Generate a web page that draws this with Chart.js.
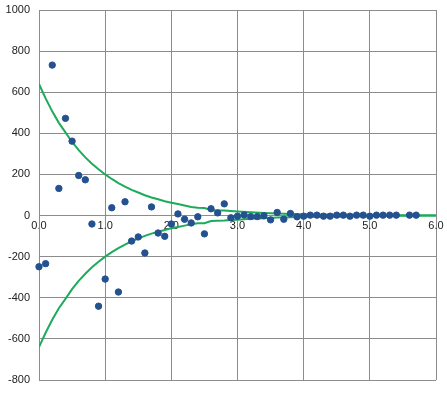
<!DOCTYPE html>
<html>
<head>
<meta charset="utf-8">
<script src="https://cdn.jsdelivr.net/npm/chart.js@4/dist/chart.umd.min.js"></script>
<style>
  html, body { margin: 0; padding: 0; background: #fff; }
  #wrap { width: 447px; height: 398px; }
</style>
</head>
<body>
<div id="wrap"><canvas id="graph"></canvas></div>
<script>
// measured points
var ptX = [0.0, 0.1, 0.2, 0.3, 0.4, 0.5, 0.6, 0.7, 0.8, 0.9,
           1.0, 1.1, 1.2, 1.3, 1.4, 1.5, 1.6, 1.7, 1.8, 1.9,
           2.0, 2.1, 2.2, 2.3, 2.4, 2.5, 2.6, 2.7, 2.8, 2.9,
           3.0, 3.1, 3.2, 3.3, 3.4, 3.5, 3.6, 3.7, 3.8, 3.9,
           4.0, 4.1, 4.2, 4.3, 4.4, 4.5, 4.6, 4.7, 4.8, 4.9,
           5.0, 5.1, 5.2, 5.3, 5.4, 5.6, 5.7];
var ptY = [-249, -234, 732, 132, 473, 362, 195, 174, -41, -441,
           -309, 38, -372, 67, -124, -104, -182, 42, -85, -101,
           -41, 8, -18, -36, -6, -89, 33, 13, 57, -11,
           -3, 3, -5, -5, -1, -21, 15, -18, 10, -6,
           -3, 2, 2, -3, -3, 2, 2, -3, 2, 2,
           -3, 2, 2, 2, 2, 2, 2];

// envelope curves
var envX = [0.0, 0.1, 0.2, 0.3, 0.4, 0.5, 0.6, 0.7, 0.8, 0.9,
            1.0, 1.1, 1.2, 1.3, 1.4, 1.5, 1.6, 1.7, 1.8, 1.9,
            2.0, 2.1, 2.2, 2.3, 2.4, 2.5, 2.6, 2.7, 2.8, 2.9,
            3.0, 3.2, 3.4, 3.6, 3.8, 4.0, 4.5, 5.0, 5.5, 6.0];
var envUpper = [640, 570, 507, 451, 405, 358, 318, 283, 252, 225,
                200, 178, 158, 141, 125, 112, 99, 88, 79, 70,
                62, 56, 49, 42, 38, 37, 27, 25, 24, 22,
                20, 16, 13, 10, 8, 6, 4, 2, 1, 0];
var envLower = [-640, -570, -507, -451, -405, -358, -318, -283, -252, -225,
                -200, -178, -158, -141, -125, -112, -99, -88, -79, -70,
                -62, -56, -49, -42, -38, -37, -27, -25, -24, -22,
                -20, -16, -13, -10, -8, -6, -4, -2, -1, 0];

function pairs(xs, ys) {
    var out = [];
    for (var i = 0; i < xs.length; i++) {
        out.push({x: xs[i], y: ys[i]});
    }
    return out;
}

var green = '#1DAB5B';
var gridColor = '#8C8C8C';

var ctx = document.getElementById('graph').getContext('2d');
var chart = new Chart(ctx, {
    type: 'scatter',
    data: {
        datasets: [{
            label: 'upper',
            data: pairs(envX, envUpper),
            showLine: true,
            borderColor: green,
            borderWidth: 2,
            pointRadius: 0,
            fill: false,
            order: 2
        }, {
            label: 'lower',
            data: pairs(envX, envLower),
            showLine: true,
            borderColor: green,
            borderWidth: 2,
            pointRadius: 0,
            fill: false,
            order: 2
        }, {
            label: 'points',
            data: pairs(ptX, ptY),
            backgroundColor: '#24518F',
            borderColor: '#24518F',
            pointRadius: 3.2,
            pointHoverRadius: 3.2,
            clip: false,
            order: 1
        }]
    },
    options: {
        responsive: true,
        maintainAspectRatio: false,
        animation: false,
        layout: { padding: { top: 10, right: 11, bottom: 18, left: 0 } },
        plugins: { legend: { display: false }, tooltip: { enabled: false } },
        scales: {
            x: {
                type: 'linear',
                position: { y: 0 },
                min: 0,
                max: 6,
                afterFit: function(s) { s.paddingLeft = 0; s.paddingRight = 0; },
                ticks: {
                    stepSize: 1,
                    color: '#222',
                    font: { family: 'Liberation Sans', size: 11 },
                    padding: 4,
                    callback: function(v) { return v.toFixed(1); }
                },
                grid: { color: gridColor, lineWidth: 1, tickLength: 0 },
                border: { color: gridColor }
            },
            y: {
                min: -800,
                max: 1000,
                afterFit: function(s) { s.width = 39; s.paddingTop = 0; s.paddingBottom = 0; },
                ticks: {
                    stepSize: 200,
                    color: '#222',
                    font: { family: 'Liberation Sans', size: 11 },
                    padding: 9,
                    callback: function(v) { return String(v); }
                },
                grid: { color: gridColor, lineWidth: 1, tickLength: 0 },
                border: { color: gridColor }
            }
        }
    }
});
</script>
</body>
</html>
